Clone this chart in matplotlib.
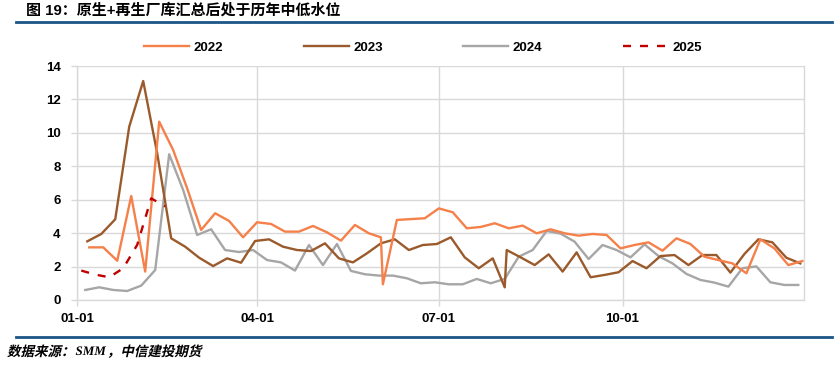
import matplotlib
matplotlib.use("Agg")
import matplotlib.pyplot as plt
from matplotlib.lines import Line2D
from matplotlib.textpath import TextPath, TextToPath
from matplotlib.patches import PathPatch
from matplotlib.font_manager import FontProperties
from matplotlib.transforms import Affine2D
import pandas as pd

plt.rcParams['font.family'] = ['Liberation Sans', 'Noto Sans CJK SC', 'DejaVu Sans']

# ---------------- data ----------------
years = ["2022", "2023", "2024", "2025"]
colors = ["#F5804A", "#9A5A2B", "#A6A6A6", "#C00000"]

start_2022 = "2022-01-07"
start_2023 = "2023-01-06"
start_2024 = "2024-01-05"
start_2025 = "2025-01-03"

v2022 = [3.15, 3.15, 2.35, 6.22, 1.70, 10.67, 8.97, 6.68, 4.19, 5.19,
         4.73, 3.75, 4.65, 4.55, 4.09, 4.09, 4.43, 4.05, 3.55, 4.49,
         3.99, 3.75, 0.94, 4.79, 4.84, 4.89, 5.48, 5.25, 4.29, 4.37,
         4.59, 4.29, 4.45, 3.99, 4.23, 3.99, 3.85, 3.95, 3.89, 3.09,
         3.29, 3.45, 2.95, 3.69, 3.35, 2.59, 2.39, 2.19, 1.60, 3.63,
         3.09, 2.09, 2.33]
v2023 = [3.51, 3.95, 4.83, 10.37, 13.10, 8.78, 3.69, 3.19, 2.53, 2.03,
         2.49, 2.23, 3.53, 3.63, 3.19, 2.99, 2.93, 3.39, 2.49, 2.25,
         2.79, 3.39, 3.63, 2.99, 3.29, 3.35, 3.75, 2.55, 1.90, 2.49,
         0.76, 2.99, 2.55, 2.09, 2.73, 1.70, 2.85, 1.36, 1.50, 1.66,
         2.33, 1.90, 2.63, 2.69, 2.09, 2.69, 2.69, 1.64, 2.75, 3.63,
         3.45, 2.53, 2.19]
v2024 = [0.60, 0.76, 0.60, 0.54, 0.86, 1.79, 8.72, 6.58, 3.89, 4.23,
         2.99, 2.87, 2.99, 2.39, 2.25, 1.76, 3.29, 2.09, 3.35, 1.74,
         1.54, 1.46, 1.46, 1.30, 1.00, 1.06, 0.94, 0.94, 1.26, 1.00,
         1.26, 2.59, 2.99, 4.13, 3.97, 3.49, 2.45, 3.29, 2.99, 2.55,
         3.33, 2.63, 2.19, 1.56, 1.20, 1.04, 0.80, 1.90, 2.01, 1.06,
         0.90, 0.90]
v2025 = [1.76, 1.52, 1.36, 1.90, 3.30, 6.08, 5.60]

tick_pos = [0, 90, 181, 273]
tick_labels = ["01-01", "04-01", "07-01", "10-01"]
y_ticks = [0, 2, 4, 6, 8, 10, 12, 14]

title = "图 19：原生+再生厂库汇总后处于历年中低水位"
source_parts = ["数据来源：", "SMM", "，中信建投期货"]

# ---------------- dates ----------------
d22 = list(pd.date_range(start_2022, periods=52, freq="7D"))
d22[21] = pd.Timestamp("2022-06-02")
d22.insert(22, pd.Timestamp("2022-06-03"))
d23 = list(pd.date_range(start_2023, periods=52, freq="7D"))
d23.insert(30, pd.Timestamp("2023-08-03"))
d24 = list(pd.date_range(start_2024, periods=52, freq="7D"))
d25 = list(pd.date_range(start_2025, periods=len(v2025), freq="7D"))


def doy(dates):
    return [(d - pd.Timestamp(year=d.year, month=1, day=1)).days for d in dates]


series = [(doy(d22), v2022), (doy(d23), v2023), (doy(d24), v2024), (doy(d25), v2025)]

# ---------------- figure ----------------
W, H = 839, 366
DPI = 100
fig = plt.figure(figsize=(W / DPI, H / DPI), dpi=DPI)
ax = fig.add_axes([77.3 / W, 1 - 300 / H, 727 / W, 234 / H])

grid_c = "#D9D9D9"
LW = 1.7
for i, (x, y) in enumerate(series):
    if years[i] == "2025":
        ax.plot(x, y, color=colors[i], lw=LW, dashes=(3.4, 3.8), zorder=3)
    else:
        ax.plot(x, y, color=colors[i], lw=LW, zorder=3 - i * 0.1)

ax.set_xlim(0, 364)
ax.set_ylim(0, 14)
ax.set_xticks(tick_pos)
ax.set_xticklabels(tick_labels)
ax.set_yticks(y_ticks)
ax.set_yticklabels([str(t) for t in y_ticks])
ax.grid(True, color=grid_c, lw=1.0, zorder=0)
ax.set_axisbelow(True)
for s in ["left", "bottom", "right"]:
    ax.spines[s].set_color(grid_c)
    ax.spines[s].set_linewidth(1.0)
ax.spines["top"].set_visible(False)
ax.tick_params(axis="both", color=grid_c, length=4, width=1.0)
ax.tick_params(axis="y", pad=8)
ax.tick_params(axis="x", pad=5)
for lab in ax.get_xticklabels() + ax.get_yticklabels():
    lab.set_fontweight("bold")
    lab.set_fontsize(9.5)
    lab.set_color("#000000")

# legend
handles = []
for i in range(4):
    if years[i] == "2025":
        handles.append(Line2D([], [], color=colors[i], lw=LW, dashes=(3.4, 3.8)))
    else:
        handles.append(Line2D([], [], color=colors[i], lw=LW))
fig.legend(handles, years, loc="center", bbox_to_anchor=(423 / W, 1 - 48 / H),
           ncol=4, frameon=False, handlelength=3.4, handletextpad=0.35,
           columnspacing=6.1, prop={"weight": "bold", "size": 9.5})

# title, rules
fig.text(26 / W, 1 - 10 / H, title, fontsize=10.8, fontweight="bold",
         ha="left", va="center")
fig.add_artist(Line2D([16 / W, 832 / W], [1 - 22 / H, 1 - 22 / H],
                      color="#1B5587", lw=2.0))
fig.add_artist(Line2D([16 / W, 832 / W], [1 - 337 / H, 1 - 337 / H],
                      color="#1B5587", lw=2.0))

# source line, drawn as slanted (italic) text paths in pixel units
px_to_fig = Affine2D().scale(1 / DPI) + fig.dpi_scale_trans
t2p = TextToPath()


def draw_text_path(s, fp, size, x, y, skew):
    fp = fp.copy()
    fp.set_size(size)
    tp = TextPath((0, 0), s, size=size, prop=fp)
    tr = Affine2D().skew_deg(skew, 0).translate(x, y) + px_to_fig
    fig.add_artist(PathPatch(tp, transform=tr, facecolor="black",
                             edgecolor="none", lw=0))
    w, _, _ = t2p.get_text_width_height_descent(s, fp, ismath=False)
    return x + w


fp_cjk = FontProperties(family="Noto Sans CJK SC", weight="bold")
fp_lat = FontProperties(family="Liberation Serif", weight="bold", style="italic")
base_y = H - 356
x0 = 7
x0 = draw_text_path(source_parts[0], fp_cjk, 13.5, x0, base_y, 13)
x0 = draw_text_path(source_parts[1], fp_lat, 13.0, x0 + 1, base_y + 1, 0)
x0 = draw_text_path(source_parts[2], fp_cjk, 13.5, x0 + 1, base_y, 13)

fig.savefig("out.png", dpi=DPI)
